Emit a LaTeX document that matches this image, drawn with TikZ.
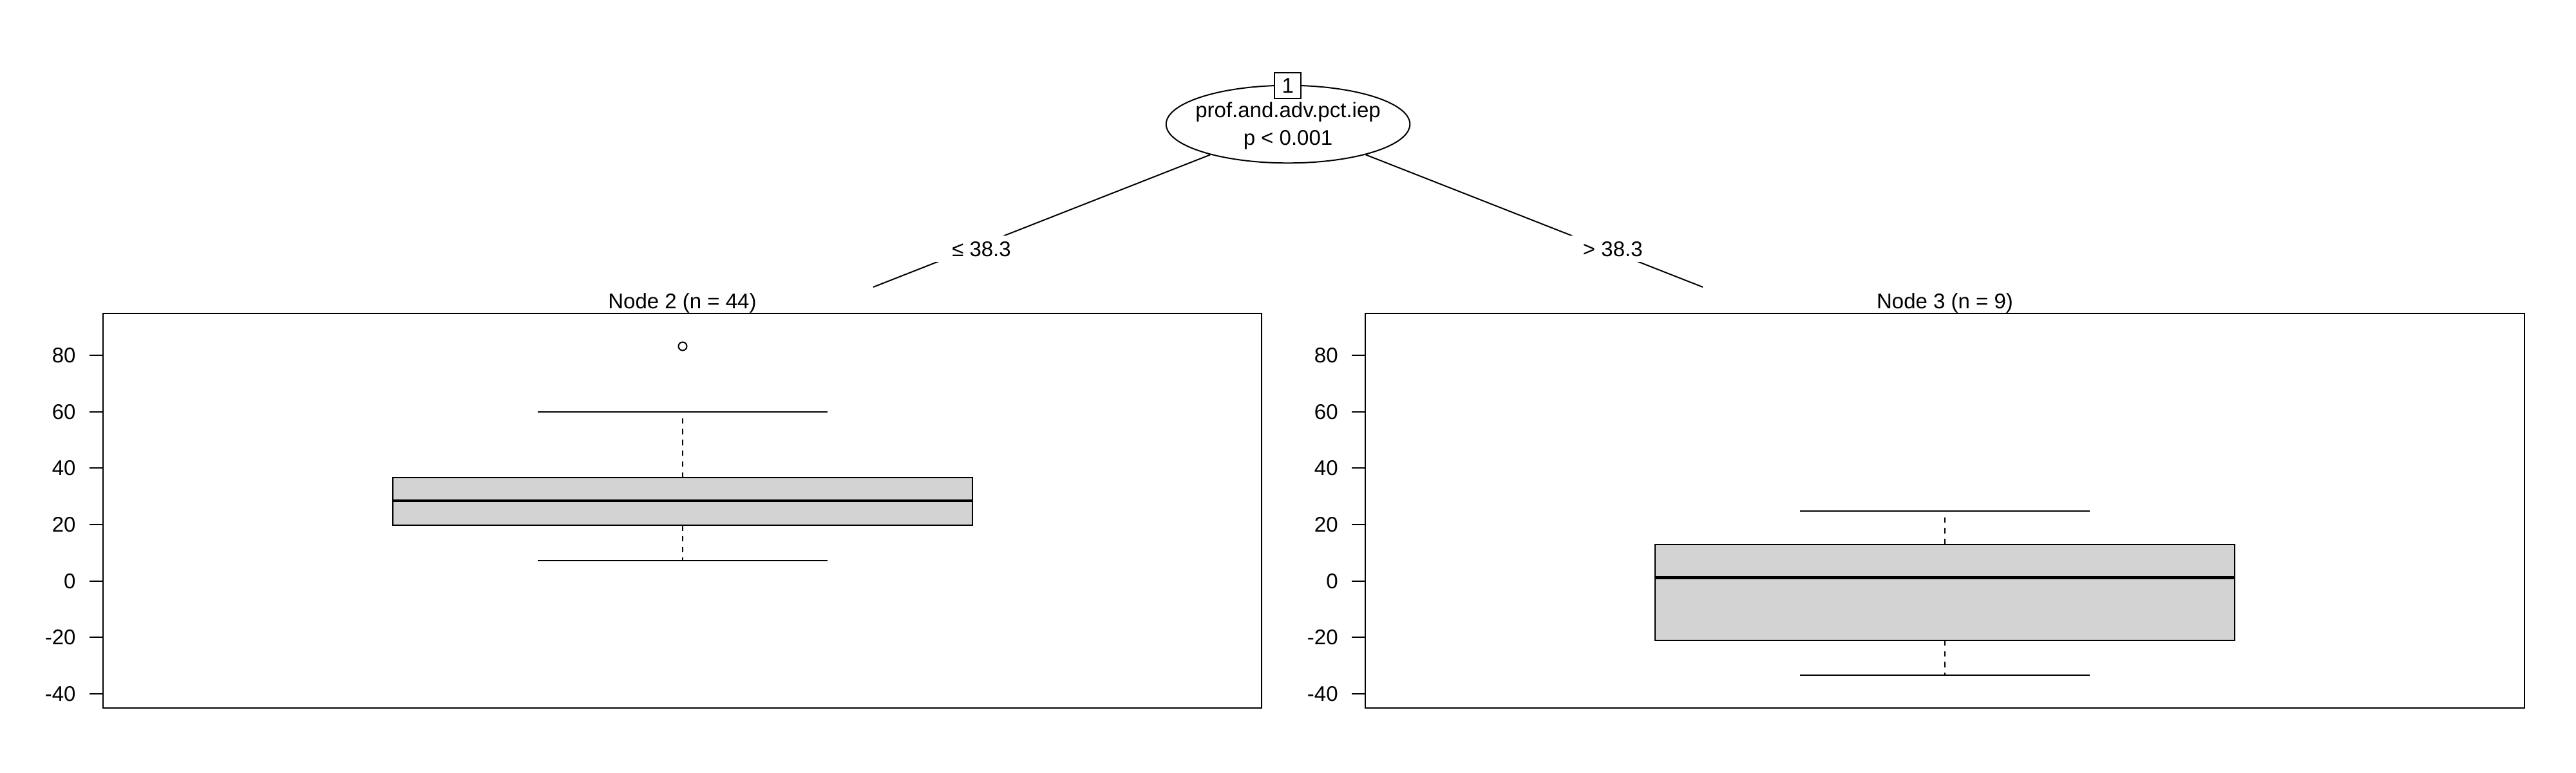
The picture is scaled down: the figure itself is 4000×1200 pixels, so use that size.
\documentclass[tikz,border=0pt]{standalone}
\usepackage{fontspec}
\setmainfont{Liberation Sans}
\usetikzlibrary{shapes.geometric}
\definecolor{boxgray}{RGB}{211,211,211}
\begin{document}
\begin{tikzpicture}[x=1pt,y=-1pt,line width=2pt,
  txt/.style={font=\fontsize{33}{40}\selectfont, inner sep=0pt},
  lbl/.style={txt, fill=white, text height=24pt, text depth=0pt, inner xsep=30pt, inner ysep=8.7pt},
  frame/.style={draw=black, line width=2.2pt},
  boxfill/.style={draw=black, fill=boxgray, line width=2pt},
  median/.style={line width=4.5pt},
  whisk/.style={dash pattern=on 8.5pt off 8.3pt},
  tick/.style={line width=2pt}]
\useasboundingbox (0,0) rectangle (4000,1200);

% ---- panels ----
\draw[frame] (160,486.7) rectangle (1959,1100);
\draw[frame] (2120,486.7) rectangle (3920,1100);

\foreach \v in {-40,-20,0,20,40,60,80}{
  \pgfmathsetmacro\yy{902.7-4.383*\v}
  \draw[tick] (139,\yy) -- (160,\yy);
  \node[txt,anchor=east] (tickL\v) at (118.6,\yy) {\v};
  \draw[tick] (2099,\yy) -- (2120,\yy);
  \node[txt,anchor=east] (tickR\v) at (2078.6,\yy) {\v};
}

% ---- Node 2 boxplot ----
\draw[whisk] (1060,742) -- (1060,639.7);
\draw[whisk] (1060,816) -- (1060,871.3);
\draw (835,639.7) -- (1285,639.7);
\draw (835,871.3) -- (1285,871.3);
\draw[boxfill] (610,742) rectangle (1510,816);
\draw[median] (610,778) -- (1510,778);
\draw (1060,538) circle (6.5);

% ---- Node 3 boxplot ----
\draw[whisk] (3020,845.6) -- (3020,794.3);
\draw[whisk] (3020,994.8) -- (3020,1048.9);
\draw (2795,794.3) -- (3245,794.3);
\draw (2795,1048.9) -- (3245,1048.9);
\draw[boxfill] (2570,845.6) rectangle (3470,994.8);
\draw[median] (2570,897.4) -- (3470,897.4);

% ---- titles ----
\node[txt,anchor=base] (t2) at (1059.5,479.3) {Node 2 (n = 44)};
\node[txt,anchor=base] (t3) at (3020,479.3) {Node 3 (n = 9)};

% ---- tree ----
\node[ellipse, draw, fill=white, minimum width=378.6pt, minimum height=120.6pt, inner sep=0pt] (n1) at (2000,193) {};
\node[txt,anchor=base] (n1a) at (2000,182.7) {prof.and.adv.pct.iep};
\node[txt,anchor=base] (n1b) at (2000,225) {p < 0.001};
\node[txt, draw, fill=white, minimum size=40.6pt] (id1) at (1999.7,133) {1};

\coordinate (c2) at (1356,446);
\coordinate (c3) at (2644,446);
\draw (n1) -- (c2);
\draw (n1) -- (c3);
\node[lbl] (e2) at (1524,386.6) {≤ 38.3};
\node[lbl] (e3) at (2504.3,386.6) {> 38.3};
\end{tikzpicture}
\end{document}
